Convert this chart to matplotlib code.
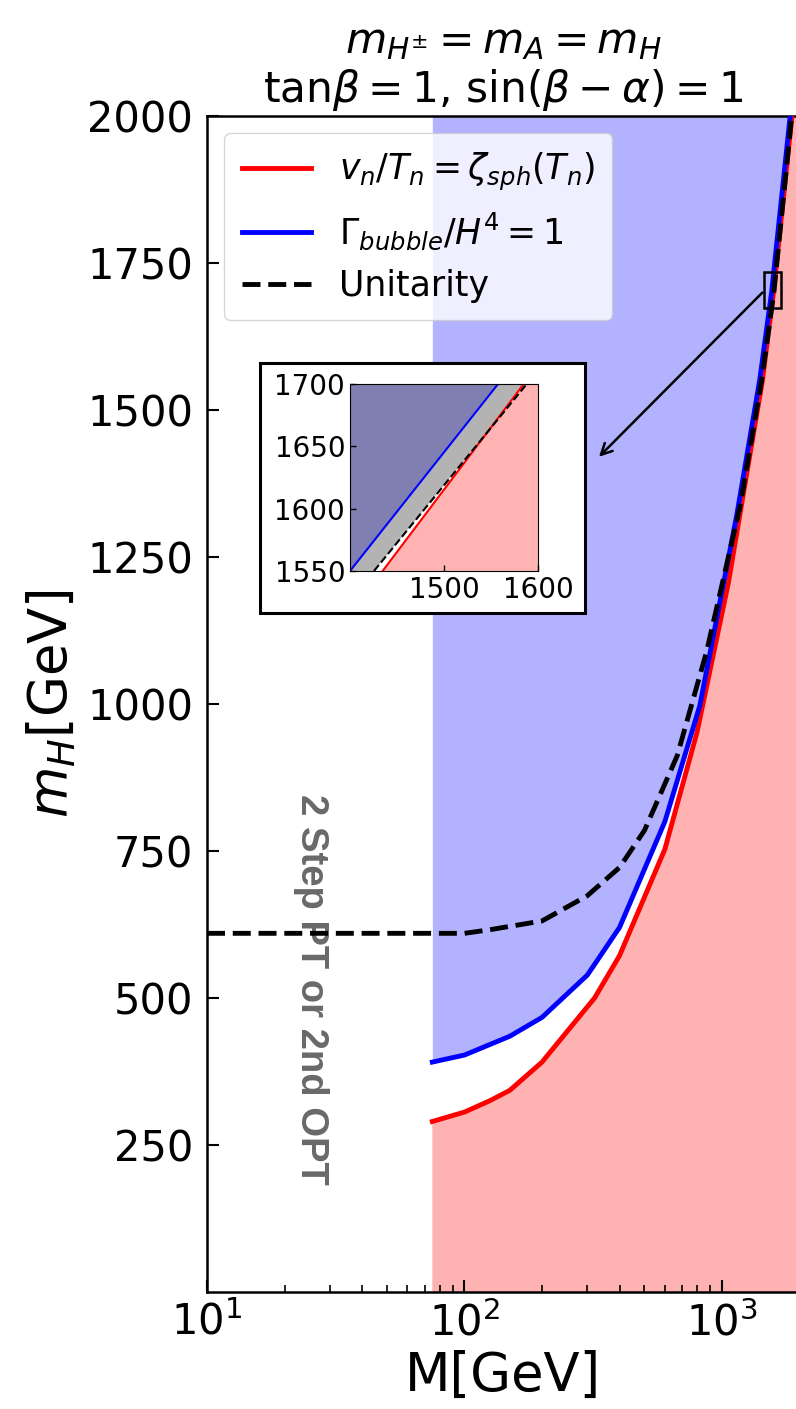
import matplotlib
matplotlib.use("Agg")
import matplotlib.pyplot as plt
from matplotlib.patches import Rectangle

# ---------- data ----------
# sphaleron condition  v_n/T_n = zeta_sph(T_n)
red_M = [75, 100, 125, 150, 200, 320, 400, 600, 800, 1060, 1435, 1585, 1870]
red_mH = [290, 306, 325, 343, 391, 500, 572, 753, 952, 1207, 1550, 1700, 2000]

# nucleation condition  Gamma/H^4 = 1
blue_M = [75, 100, 150, 200, 300, 400, 600, 820, 1140, 1400, 1558, 1840]
blue_mH = [391, 403, 435, 467, 539, 620, 800, 997, 1320, 1550, 1700, 2000]

# unitarity bound
uni_M = [10, 100, 125, 200, 300, 400, 500, 670, 870, 1177, 1425, 1590, 1865]
uni_mH = [610, 610, 616, 631, 674, 722, 785, 912, 1088, 1337, 1550, 1700, 2000]

# zoomed window (inset)
ins_blue_M = [1400, 1557.5]
ins_uni_M = [1425.5, 1588]
ins_red_M = [1434.7, 1584.8]
ins_mH = [1550, 1700]

y_ticks = [250, 500, 750, 1000, 1250, 1500, 1750, 2000]
ins_xticks = [1500, 1600]
ins_yticks = [1550, 1600, 1650, 1700]

XMIN, XMAX = 10, 2000
YMIN, YMAX = 0, 2000

W, H = 796, 1409
fig = plt.figure(figsize=(W / 100, H / 100), dpi=100)
ax = fig.add_axes([207 / W, (H - 1292) / H, 592.5 / W, 1176 / H])

ax.fill_between(blue_M, blue_mH, YMAX, color="blue", alpha=0.3, lw=0, zorder=1)
ax.fill(red_M + [XMAX, XMAX, red_M[0]], red_mH + [YMAX, YMIN, YMIN],
        color="red", alpha=0.3, lw=0, zorder=1)

ax.text(25.4, 515, "2 Step PT or 2nd OPT", rotation=-90, ha="center", va="center",
        fontsize=27.5, fontweight="bold", color="dimgray",
        family="Liberation Sans", zorder=1.5)

ax.plot(red_M, red_mH, color="red", lw=3.5, zorder=3,
        label=r"$v_n/T_n=\zeta_{sph}(T_n)$")
ax.plot(blue_M, blue_mH, color="blue", lw=3.5, zorder=3,
        label=r"$\Gamma_{bubble}/H^4=1$")
ax.plot(uni_M, uni_mH, color="black", ls="--", lw=3.5, zorder=4, label="Unitarity")

ax.set_xscale("log")
ax.set_xlim(XMIN, XMAX)
ax.set_ylim(YMIN, YMAX)
ax.set_yticks(y_ticks)
ax.tick_params(which="major", direction="in", length=8.5, width=1.5, labelsize=30)
ax.tick_params(which="minor", direction="in", length=4.8, width=1.2)
ax.tick_params(axis="y", pad=10)
ax.tick_params(axis="x", which="major", pad=7)
for s in ax.spines.values():
    s.set_linewidth(1.8)

ax.set_xlabel("M[GeV]", fontsize=38, labelpad=4)
ax.set_ylabel(r"$m_H$[GeV]", fontsize=38, labelpad=6)
ax.set_title(r"$m_{H^{\pm}}=m_A=m_H$" + "\n" + r"tan$\beta=1$, sin$(\beta-\alpha)=1$",
             fontsize=30.5, pad=10, linespacing=1.15)

leg = ax.legend(loc="upper left", fontsize=25, handlelength=2.0, borderpad=0.5)
leg.set_zorder(6)

# box around the zoomed region and the arrow to the inset
ax.add_patch(Rectangle((1455, 1673), 240, 62, fill=False, ec="black", lw=1.8, zorder=5))
ax.annotate("", xy=(327, 1417), xytext=(1460, 1703),
            arrowprops=dict(arrowstyle="->", color="black", lw=1.8,
                            mutation_scale=20), zorder=5)

# ---------- inset ----------
fig.patches.append(Rectangle((260 / W, (H - 613) / H), 325 / W, 250 / H,
                             transform=fig.transFigure, fc="white", ec="black",
                             lw=2.2, zorder=2))
axi = fig.add_axes([350 / W, (H - 571) / H, 188 / W, 187 / H])
axi.set_zorder(3)
x0, x1 = 1400, 1600
axi.fill(ins_blue_M + [x0], ins_mH + [ins_mH[1]], color="#7f7fb2", lw=0)
axi.fill(ins_blue_M + ins_uni_M[::-1], ins_mH + ins_mH[::-1], color="#b3b3b3", lw=0)
axi.fill(ins_red_M + [x1, x1], ins_mH + [ins_mH[1], ins_mH[0]], color="#ffb3b3", lw=0)
axi.plot(ins_blue_M, ins_mH, color="blue", lw=1.5)
axi.plot(ins_red_M, ins_mH, color="red", lw=1.5)
axi.plot(ins_uni_M, ins_mH, color="black", ls="--", lw=1.5)
axi.set_xlim(x0, x1)
axi.set_ylim(ins_mH[0], ins_mH[1])
axi.set_xticks(ins_xticks)
axi.set_yticks(ins_yticks)
axi.tick_params(direction="in", length=4, width=1, labelsize=20)

fig.savefig("out.png", dpi=100)
